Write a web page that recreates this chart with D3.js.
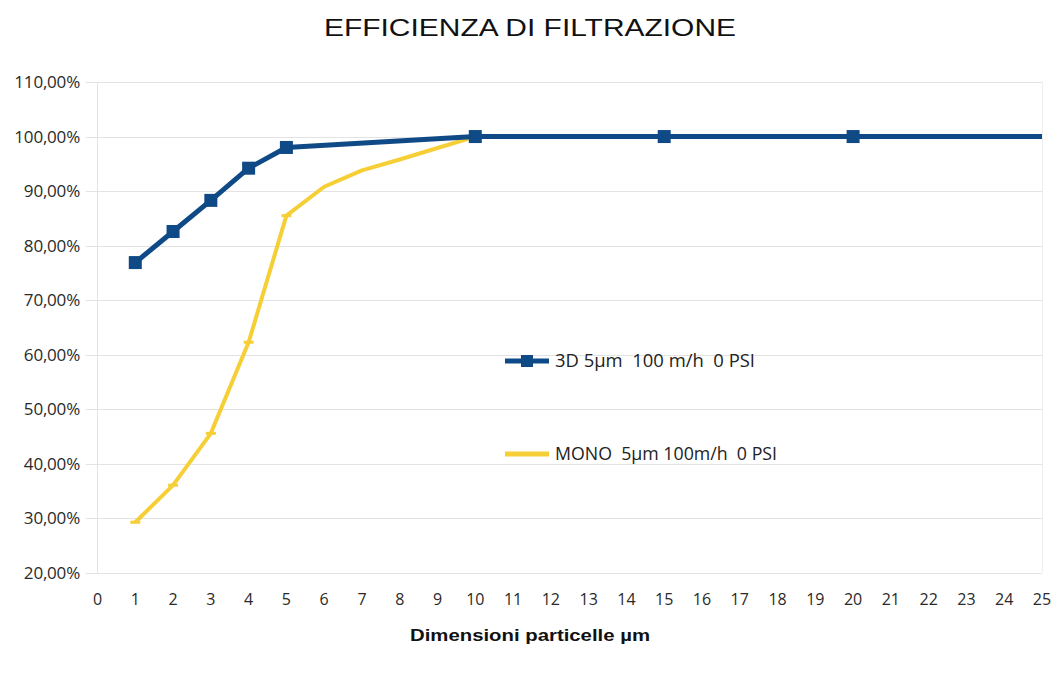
<!DOCTYPE html>
<html>
<head>
<meta charset="utf-8">
<script src="https://cdn.jsdelivr.net/npm/d3@7"></script>
<style>
  html, body { margin: 0; padding: 0; background: #fff; }
  svg { display: block; }
</style>
</head>
<body>
<div id="viz"></div>
<script>
//Data
const TITLE = "EFFICIENZA DI FILTRAZIONE";
const X_TITLE = "Dimensioni particelle µm";
const X_TICKS = d3.range(0, 26);
const Y_TICKS = [20, 30, 40, 50, 60, 70, 80, 90, 100, 110];

const SIZES_3D = [1, 2, 3, 4, 5, 10, 15, 20, 25];
const VALUES_3D = [76.9, 82.6, 88.3, 94.2, 98.0, 100, 100, 100, 100];
const MARKED_3D = [true, true, true, true, true, true, true, true, false];

const SIZES_MONO = [1, 2, 3, 4, 5, 6, 7, 8, 9, 10, 15, 20, 25];
const VALUES_MONO = [29.3, 36.1, 45.6, 62.3, 85.5, 90.8, 93.8, 95.8, 97.9, 100, 100, 100, 100];
const MARKED_MONO = [true, true, true, true, true, false, false, false, false, false, false, false, false];

const LEGEND = ["3D 5µm  100 m/h  0 PSI", "MONO  5µm 100m/h  0 PSI"];

//Layout
const width = 1059, height = 676;
const BLUE = "#0f4a87", YELLOW = "#f6cf37";
const TICK_FONT = "Open Sans, sans-serif";

var svg = d3.select("#viz").append("svg").attr("width", width).attr("height", height);

var x = d3.scaleLinear().domain([0, 25]).range([97.5, 1042]);
var y = d3.scaleLinear().domain([20, 110]).range([573, 82]);

// title
svg.append("text").attr("x", 324).attr("y", 36)
    .attr("textLength", 412).attr("lengthAdjust", "spacingAndGlyphs")
    .style("font-family", "Liberation Sans, Arial, sans-serif")
    .style("font-size", "24px").style("fill", "#111")
    .text(TITLE);

// grid lines
svg.append("g").selectAll("line").data(Y_TICKS).enter().append("line")
    .attr("x1", 86).attr("x2", x(25))
    .attr("y1", d => Math.round(y(d)) + 0.5).attr("y2", d => Math.round(y(d)) + 0.5)
    .attr("stroke", "#e3e3e3").attr("stroke-width", 1);

// side lines
svg.append("line").attr("x1", 97.5).attr("x2", 97.5).attr("y1", y(110)).attr("y2", y(20))
    .attr("stroke", "#e3e3e3");
svg.append("line").attr("x1", x(25) + 0.5).attr("x2", x(25) + 0.5).attr("y1", y(110)).attr("y2", y(20))
    .attr("stroke", "#eeeeee");

// y labels
svg.append("g").selectAll("text").data(Y_TICKS).enter().append("text")
    .attr("x", 80).attr("y", d => y(d) + 6)
    .attr("text-anchor", "end")
    .style("font-family", TICK_FONT)
    .style("font-size", "17px").style("fill", "#2a2a2a").style("letter-spacing", "-0.2px")
    .text(d => d + ",00%");

// x labels
svg.append("g").selectAll("text").data(X_TICKS).enter().append("text")
    .attr("x", d => x(d)).attr("y", 605)
    .attr("text-anchor", "middle")
    .style("font-family", TICK_FONT)
    .style("font-size", "16px").style("fill", "#2a2a2a")
    .text(d => d);

// x title
svg.append("text").attr("x", 410).attr("y", 641)
    .attr("textLength", 240).attr("lengthAdjust", "spacingAndGlyphs")
    .style("font-family", "Liberation Sans, Arial, sans-serif")
    .style("font-size", "17px").style("font-weight", "bold").style("fill", "#111")
    .text(X_TITLE);

var line = d3.line().x(d => x(d[0])).y(d => y(d[1]));

// MONO series
var mono = d3.zip(SIZES_MONO, VALUES_MONO);
svg.append("path").datum(mono).attr("d", line)
    .attr("fill", "none").attr("stroke", YELLOW).attr("stroke-width", 4)
    .attr("stroke-linejoin", "round");
svg.append("g").selectAll("line").data(mono.filter((d, i) => MARKED_MONO[i])).enter().append("line")
    .attr("x1", d => x(d[0]) - 5).attr("x2", d => x(d[0]) + 5)
    .attr("y1", d => y(d[1])).attr("y2", d => y(d[1]))
    .attr("stroke", YELLOW).attr("stroke-width", 3);

// 3D series
var s3d = d3.zip(SIZES_3D, VALUES_3D);
svg.append("path").datum(s3d).attr("d", line)
    .attr("fill", "none").attr("stroke", BLUE).attr("stroke-width", 5)
    .attr("stroke-linejoin", "round");
svg.append("g").selectAll("rect").data(s3d.filter((d, i) => MARKED_3D[i])).enter().append("rect")
    .attr("x", d => x(d[0]) - 6.5).attr("y", d => y(d[1]) - 6.5)
    .attr("width", 13).attr("height", 13)
    .attr("fill", BLUE);

// legend
var legend = svg.append("g");
legend.append("line").attr("x1", 505).attr("x2", 549).attr("y1", 361).attr("y2", 361)
    .attr("stroke", BLUE).attr("stroke-width", 5);
legend.append("rect").attr("x", 521).attr("y", 355).attr("width", 12).attr("height", 12).attr("fill", BLUE);
legend.append("line").attr("x1", 505).attr("x2", 549).attr("y1", 454).attr("y2", 454)
    .attr("stroke", YELLOW).attr("stroke-width", 5);
legend.selectAll("text").data(LEGEND).enter().append("text")
    .attr("x", 555).attr("y", (d, i) => i == 0 ? 367 : 460)
    .attr("textLength", (d, i) => i == 0 ? 200 : 222).attr("lengthAdjust", "spacingAndGlyphs")
    .style("font-family", TICK_FONT)
    .style("font-size", "17.5px").style("fill", "#222")
    .style("white-space", "pre")
    .text(d => d);
</script>
</body>
</html>
